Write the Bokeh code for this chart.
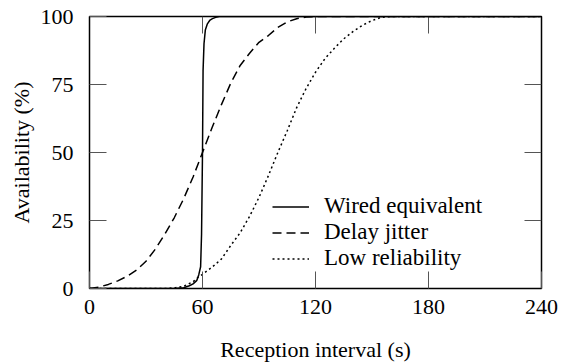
import math
from bokeh.plotting import figure
from bokeh.models import Legend, LegendItem, FixedTicker, Range1d
from bokeh.embed import file_html
from bokeh.resources import INLINE

# Data
wired_x = [0, 45, 50, 53, 55, 57, 58, 59, 59.5, 60, 60.3, 60.8, 61.5, 62.6, 64, 65.3, 67, 69, 240]
wired_y = [0, 0, 0.3, 1, 1.7, 3, 5, 8, 20, 50, 80, 90, 95, 97.3, 98.7, 99.2, 99.7, 100, 100]

jitter_x = [0, 5, 10, 15, 20, 25, 30, 35, 40, 45, 50, 55, 60, 65, 70, 75, 80, 85, 90, 95, 100, 105, 110, 115, 120, 240]
jitter_y = [0, 0.5, 1.5, 2.8, 4.5, 6.8, 10, 14.5, 20, 26, 33, 41, 50, 59, 67.5, 75.5, 82, 86.5, 90.5, 93, 96, 98, 99.2, 99.8, 100, 100]

lowrel_x = [0, 40, 45, 50, 55, 58, 60, 65, 70, 75, 80, 85, 90, 95, 100, 105, 110, 115, 120, 125, 130, 135, 140, 145, 150, 155, 160, 240]
lowrel_y = [0, 0, 0.2, 0.8, 2.5, 4.3, 5.2, 7.8, 10.8, 15.8, 20.5, 26.5, 33.5, 41.5, 50, 58, 66.5, 73.5, 79.5, 84.5, 88.3, 91.8, 94.5, 96.8, 98.5, 99.7, 100, 100]

x_ticks = [0, 60, 120, 180, 240]
y_ticks = [0, 25, 50, 75, 100]

FONT = "Liberation Serif"
FS = "22px"
LEGEND_FS = "23px"
TICK_COLOR = "#555555"
TICK_LEN = 17

p = figure(width=562, height=364, output_backend="svg", toolbar_location=None,
           x_range=Range1d(x_ticks[0], x_ticks[-1]), y_range=Range1d(y_ticks[0], y_ticks[-1]),
           min_border_left=89, min_border_right=21, min_border_top=16, min_border_bottom=76,
           x_axis_label="Reception interval (s)", y_axis_label="Availability (%)")

p.grid.visible = False
p.outline_line_color = "black"
p.outline_line_width = 1.5
p.background_fill_color = "white"
p.border_fill_color = "white"

def style_axis(ax):
    ax.axis_line_color = None
    ax.major_tick_in = TICK_LEN
    ax.major_tick_out = 0
    ax.minor_tick_line_color = None
    ax.major_tick_line_color = TICK_COLOR
    ax.major_tick_line_width = 1
    ax.major_label_text_font = FONT
    ax.major_label_text_font_size = FS
    ax.major_label_text_color = "black"
    ax.axis_label_text_font = FONT
    ax.axis_label_text_font_size = FS
    ax.axis_label_text_font_style = "normal"
    ax.axis_label_text_color = "black"

for ax in p.xaxis:
    ax.ticker = FixedTicker(ticks=x_ticks)
    style_axis(ax)
    ax.major_label_standoff = 11
    ax.axis_label_standoff = 20
for ax in p.yaxis:
    ax.ticker = FixedTicker(ticks=y_ticks)
    style_axis(ax)
    ax.major_label_standoff = 16
    ax.axis_label_standoff = 4

# mirrored inward ticks on top and right edges
p.ray(x=x_ticks[1:-1], y=[y_ticks[-1]] * (len(x_ticks) - 2), length=TICK_LEN,
      length_units="screen", angle=-math.pi / 2, line_color=TICK_COLOR, line_width=1)
p.ray(x=[x_ticks[-1]] * (len(y_ticks) - 2), y=y_ticks[1:-1], length=TICK_LEN,
      length_units="screen", angle=math.pi, line_color=TICK_COLOR, line_width=1)

r1 = p.line(wired_x, wired_y, line_color="black", line_width=1.5)
r2 = p.line(jitter_x, jitter_y, line_color="black", line_width=1.5, line_dash="9 5")
r3 = p.line(lowrel_x, lowrel_y, line_color="black", line_width=1.5, line_dash="2 3")

legend = Legend(items=[LegendItem(label="Wired equivalent", renderers=[r1]),
                       LegendItem(label="Delay jitter", renderers=[r2]),
                       LegendItem(label="Low reliability", renderers=[r3])],
                location=(183, 17))
legend.border_line_color = None
legend.background_fill_alpha = 0
legend.padding = 0
legend.margin = 0
legend.spacing = -3
legend.label_height = 23
legend.glyph_height = 23
legend.glyph_width = 37
legend.label_standoff = 15
legend.label_text_font = FONT
legend.label_text_font_size = LEGEND_FS
legend.label_text_color = "black"
p.add_layout(legend, "center")

open("out.html", "w").write(file_html(p, INLINE))
